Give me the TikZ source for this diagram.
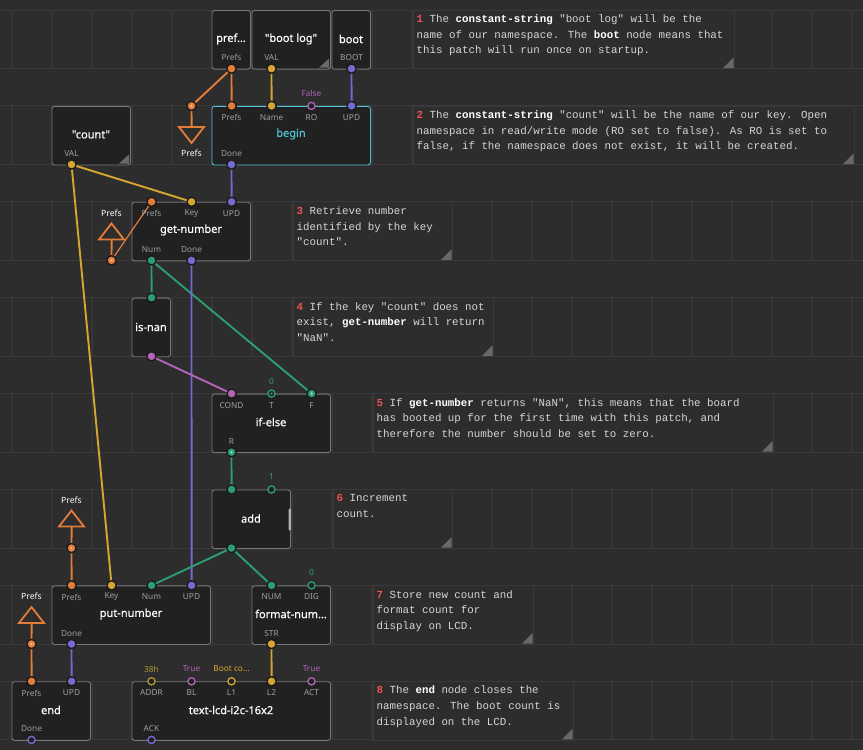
\documentclass[tikz,border=0pt]{standalone}
\usepackage{fontspec}
\newfontfamily\nsfont{Noto Sans}
\newfontfamily\ttlfont{Noto Sans}[FakeBold=0.5]
\newfontfamily\cmtfont{Liberation Mono}
\usetikzlibrary{calc}
\pgfdeclarelayer{under}
\pgfdeclarelayer{wires}
\pgfsetlayers{under,wires,main}
\definecolor{bgc}{RGB}{45,45,45}
\definecolor{gridc}{RGB}{57,57,57}
\definecolor{nodef}{RGB}{33,33,33}
\definecolor{nodeb}{RGB}{120,120,120}
\definecolor{ring}{RGB}{26,26,26}
\definecolor{cor}{RGB}{228,124,58}
\definecolor{cgold}{RGB}{214,166,48}
\definecolor{cbyte}{RGB}{176,152,52}
\definecolor{cpul}{RGB}{118,106,210}
\definecolor{cbool}{RGB}{180,100,184}
\definecolor{cnum}{RGB}{44,158,116}
\definecolor{ccyan}{RGB}{84,192,212}
\definecolor{cred}{RGB}{235,82,82}
\definecolor{ctext}{RGB}{214,214,214}
\definecolor{clbl}{RGB}{158,158,158}
\definecolor{ctri}{RGB}{105,105,105}
\definecolor{ctab}{RGB}{175,175,175}
\newcommand\cmnum[1]{\textbf{\color{cred}#1}}
\newcommand\cmbold[1]{\textbf{\color{white}#1}}
\newcommand\cmtbox[4]{\draw[cboxs] (#1,#2) rectangle (#3,#4);
  \fill[ctri] ({#3-0.5},{#4-11}) -- ({#3-0.5},{#4-0.5}) -- ({#3-11},{#4-0.5}) -- cycle;}
\newcommand\xnd[5]{\node[xnode, anchor=north west, minimum width=#4, minimum height=58.6, #5] (#1) at (#2,#3) {};}
\newcommand\pF[4]{\node[pf=#2] (#1) at (#3,#4) {};}
\newcommand\pH[4]{\node[ph=#2] (#1) at (#3,#4) {};}
\newcommand\pdot[2]{\fill[#2] (#1) circle (1.3pt);}
\newcommand\ctri[2]{\fill[ctri] ({#1-1},{#2-10}) -- ({#1-1},{#2-1}) -- ({#1-11},{#2-1}) -- cycle;}
\tikzset{
 xnode/.style={draw=nodeb, fill=nodef, line width=0.9pt, rounded corners=2.5pt, inner sep=0},
 pf/.style={circle, fill=#1, draw=ring, line width=1.3pt, inner sep=0, minimum size=9.2pt},
 ph/.style={circle, fill=nodef, draw=#1, line width=1.3pt, inner sep=0, minimum size=7.2pt},
 lnk/.style={line width=1.9pt, draw=#1},
 tri/.style={draw=cor, line width=1.8pt, line join=miter},
 ttl/.style={text=white, font=\ttlfont\fontsize{11}{13}\selectfont, inner sep=0},
 plbl/.style={text=clbl, font=\nsfont\fontsize{8.3}{10}\selectfont, inner sep=0},
 vlbl/.style={text=#1, font=\nsfont\fontsize{8.3}{10}\selectfont, inner sep=0},
 tlbl/.style={text=white, font=\nsfont\bfseries\fontsize{8.6}{10}\selectfont, inner sep=0},
 cmt/.style={text=ctext, font=\cmtfont\fontsize{10.8}{15.6}\selectfont, align=left, inner sep=0, anchor=north west},
 cboxs/.style={fill=bgc, draw=gridc, line width=0.8pt},
}
\begin{document}
\begin{tikzpicture}[x=1pt,y=-1pt]
\useasboundingbox (0,0) rectangle (863,750);
\begin{pgfonlayer}{under}
\fill[bgc] (0,0) rectangle (863,750);
% grid bands
\foreach \r in {0,...,7} {
  \draw[gridc, line width=1pt] (0,{10+95.9*\r}) -- (863,{10+95.9*\r});
  \draw[gridc, line width=1pt] (0,{68.6+95.9*\r}) -- (863,{68.6+95.9*\r});
  \foreach \j in {0,...,21}
    \draw[gridc, line width=1.3pt] ({12.3+40*\j},{10+95.9*\r}) -- ({12.32+40*\j},{68.6+95.9*\r});
}
% comment boxes
\cmtbox{413}{10}{734}{68.6}
\cmtbox{413}{105.9}{854}{164.5}
\cmtbox{293}{201.8}{452}{260.4}
\cmtbox{293}{297.7}{493}{356.3}
\cmtbox{373}{393.6}{773}{452.2}
\cmtbox{333}{489.5}{452}{548.1}
\cmtbox{373}{585.4}{533}{644}
\cmtbox{373}{681.3}{573}{739.9}
% node boxes
\xnd{pf}{211.5}{10}{38.5}{}
\xnd{bl}{251.5}{10}{78.5}{}
\xnd{bt}{331.5}{10}{38.5}{}
\xnd{cn}{51.5}{105.9}{78.5}{}
\xnd{bg}{211.5}{105.9}{158.5}{draw=ccyan}
\xnd{gn}{131.5}{201.8}{118.5}{}
\xnd{in}{131.5}{297.7}{38.5}{}
\xnd{ie}{211.5}{393.6}{118.5}{}
\xnd{ad}{211.5}{489.5}{78.5}{}
\xnd{pn}{51.5}{585.4}{158.5}{}
\xnd{fn}{251.5}{585.4}{78.5}{}
\xnd{en}{11.5}{681.3}{78.5}{}
\xnd{lcd}{131.5}{681.3}{198.5}{}
\ctri{330}{68.6}
\ctri{130}{164.5}
\fill[ctab, rounded corners=1pt] (288.6,508.5) rectangle (291.2,530.5);
\end{pgfonlayer}

% comment texts
\node[cmt] (t-c1) at (416.5,14.6) {\cmnum{1} The \cmbold{constant-string} "boot log" will be the\\name of our namespace. The \cmbold{boot} node means that\\this patch will run once on startup.};
\node[cmt] (t-c2) at (416.5,110.5) {\cmnum{2} The \cmbold{constant-string} "count" will be the name of our key. Open\\namespace in read/write mode (RO set to false). As RO is set to\\false, if the namespace does not exist, it will be created.};
\node[cmt] (t-c3) at (296.5,206.4) {\cmnum{3} Retrieve number\\identified by the key\\"count".};
\node[cmt] (t-c4) at (296.5,302.3) {\cmnum{4} If the key "count" does not\\exist, \cmbold{get-number} will return\\"NaN".};
\node[cmt] (t-c5) at (376.5,398.2) {\cmnum{5} If \cmbold{get-number} returns "NaN", this means that the board\\has booted up for the first time with this patch, and\\therefore the number should be set to zero.};
\node[cmt] (t-c6) at (336.5,494.1) {\cmnum{6} Increment\\count.};
\node[cmt] (t-c7) at (376.5,590) {\cmnum{7} Store new count and\\format count for\\display on LCD.};
\node[cmt] (t-c8) at (376.5,685.9) {\cmnum{8} The \cmbold{end} node closes the\\namespace. The boot count is\\displayed on the LCD.};

% titles
\node[ttl] (pf-t) at (231,39) {pref…};
\node[ttl] (bl-t) at (291,39) {"boot log"};
\node[ttl] (bt-t) at (351,39) {boot};
\node[ttl] (cn-t) at (91,134.5) {"count"};
\node[ttl, text=ccyan] (bg-t) at (291,134) {begin};
\node[ttl] (gn-t) at (191,230) {get-number};
\node[ttl] (in-t) at (151,327) {is-nan};
\node[ttl] (ie-t) at (271,422) {if-else};
\node[ttl] (ad-t) at (251,518.5) {add};
\node[ttl] (pn-t) at (131,614) {put-number};
\node[ttl] (fn-t) at (291,614) {format-num…};
\node[ttl] (en-t) at (51,710) {end};
\node[ttl] (lcd-t) at (231,710) {text-lcd-i2c-16x2};

% pin labels
\node[plbl] (l1) at (231.5,57.5) {Prefs};
\node[plbl] (l2) at (271.5,57.5) {VAL};
\node[plbl] (l3) at (351.5,57.5) {BOOT};
\node[plbl] (l4) at (71.5,153.4) {VAL};
\node[plbl] (l5) at (231.5,117.4) {Prefs};
\node[plbl] (l6) at (271.5,117.4) {Name};
\node[plbl] (l7) at (311.5,117.4) {RO};
\node[plbl] (l8) at (351.5,117.4) {UPD};
\node[plbl] (l9) at (231.5,153.4) {Done};
\node[plbl] (l10) at (151.5,213.3) {Prefs};
\node[plbl] (l11) at (191.5,213.3) {Key};
\node[plbl] (l12) at (231.5,213.3) {UPD};
\node[plbl] (l13) at (151.5,249.3) {Num};
\node[plbl] (l14) at (191.5,249.3) {Done};
\node[plbl] (l15) at (231.5,405.1) {COND};
\node[plbl] (l16) at (271.5,405.1) {T};
\node[plbl] (l17) at (311.5,405.1) {F};
\node[plbl] (l18) at (231.5,441.3) {R};
\node[plbl] (l19) at (71.5,597) {Prefs};
\node[plbl] (l20) at (111.5,597) {Key};
\node[plbl] (l21) at (151.5,597) {Num};
\node[plbl] (l22) at (191.5,597) {UPD};
\node[plbl] (l23) at (71.5,633.2) {Done};
\node[plbl] (l24) at (271.5,597) {NUM};
\node[plbl] (l25) at (311.5,597) {DIG};
\node[plbl] (l26) at (271.5,633.2) {STR};
\node[plbl] (l27) at (31.5,692.9) {Prefs};
\node[plbl] (l28) at (71.5,692.9) {UPD};
\node[plbl] (l29) at (31.5,728.6) {Done};
\node[plbl] (l30) at (151.5,692.9) {ADDR};
\node[plbl] (l31) at (191.5,692.9) {BL};
\node[plbl] (l32) at (231.5,692.9) {L1};
\node[plbl] (l33) at (271.5,692.9) {L2};
\node[plbl] (l34) at (311.5,692.9) {ACT};
\node[plbl] (l35) at (151.5,728.6) {ACK};

% value labels
\node[vlbl=cbool] (v1) at (311.5,93.3) {False};
\node[vlbl=cnum] (v2) at (271.5,381.2) {0};
\node[vlbl=cnum] (v3) at (271.5,477) {1};
\node[vlbl=cnum] (v4) at (311.5,573) {0};
\node[vlbl=cbyte] (v5) at (151.5,669) {38h};
\node[vlbl=cbool] (v6) at (191.5,669) {True};
\node[vlbl=cgold] (v7) at (231.5,669) {Boot co…};
\node[vlbl=cbool] (v8) at (311.5,669) {True};

% terminals
\coordinate (t1-b) at (191.6,127);
\draw[tri] (179,127) -- (204,127) -- (191.5,143) -- cycle;
\node[tlbl] (t1-l) at (191.5,153.5) {Prefs};
\node[tlbl] (t2-l) at (111.5,212.8) {Prefs};
\draw[tri] (111.5,223.5) -- (124,239.5) -- (99,239.5) -- cycle;
\coordinate (t2-b) at (111.6,239.5);
\node[tlbl] (t3-l) at (71.5,500) {Prefs};
\draw[tri] (71.5,510.5) -- (84,526.5) -- (59,526.5) -- cycle;
\coordinate (t3-b) at (71.6,526.5);
\node[tlbl] (t4-l) at (31.5,596.5) {Prefs};
\draw[tri] (31.5,607) -- (44,623) -- (19,623) -- cycle;
\coordinate (t4-b) at (31.6,623);

% pins (input pins sit 0.1pt right so that straight links are not exactly vertical)
\pF{pf-o}{cor}{231.5}{68.6}
\pF{bl-o}{cgold}{271.5}{68.6}
\pF{bt-o}{cpul}{351.5}{68.6}
\pF{cn-o}{cgold}{71.5}{164.5}
\pF{t1-p}{cor}{191.5}{105.9}\pdot{t1-p}{cor!45!white}
\pF{bg-prefs}{cor}{231.6}{105.9}
\pF{bg-name}{cgold}{271.6}{105.9}
\pH{bg-ro}{cbool}{311.5}{105.9}
\pF{bg-upd}{cpul}{351.6}{105.9}
\pF{bg-done}{cpul}{231.5}{164.5}
\pF{t2-p}{cor}{111.5}{260.4}\pdot{t2-p}{cor!45!white}
\pF{gn-prefs}{cor}{151.6}{201.8}
\pF{gn-key}{cgold}{191.6}{201.8}
\pF{gn-upd}{cpul}{231.6}{201.8}
\pF{gn-num}{cnum}{151.5}{260.4}
\pF{gn-done}{cpul}{191.5}{260.4}
\pF{in-i}{cnum}{151.6}{297.7}
\pF{in-o}{cbool}{151.5}{356.3}
\pF{ie-cond}{cbool}{231.6}{393.6}
\pH{ie-t}{cnum}{271.5}{393.6}\pdot{ie-t}{cnum}
\pF{ie-f}{cnum}{311.6}{393.6}\pdot{ie-f}{cnum!45!white}
\pF{ie-r}{cnum}{231.5}{452.2}\pdot{ie-r}{cnum!45!white}
\pF{ad-a}{cnum}{231.6}{489.5}
\pH{ad-b}{cnum}{271.5}{489.5}
\pF{ad-o}{cnum}{231.5}{548.1}
\pF{t3-p}{cor}{71.5}{548.1}\pdot{t3-p}{cor!45!white}
\pF{pn-prefs}{cor}{71.6}{585.4}
\pF{pn-key}{cgold}{111.6}{585.4}
\pF{pn-num}{cnum}{151.6}{585.4}
\pF{pn-upd}{cpul}{191.6}{585.4}
\pF{pn-done}{cpul}{71.5}{644}
\pF{fn-num}{cnum}{271.6}{585.4}
\pH{fn-dig}{cnum}{311.5}{585.4}
\pF{fn-str}{cgold}{271.5}{644}
\pF{t4-p}{cor}{31.5}{644}\pdot{t4-p}{cor!45!white}
\pF{en-prefs}{cor}{31.6}{681.3}
\pF{en-upd}{cpul}{71.6}{681.3}
\pH{en-done}{cpul}{31.5}{739.9}
\pH{lcd-addr}{cbyte}{151.5}{681.3}
\pH{lcd-bl}{cbool}{191.5}{681.3}
\pH{lcd-l1}{cgold}{231.5}{681.3}
\pF{lcd-l2}{cgold}{271.6}{681.3}
\pH{lcd-act}{cbool}{311.5}{681.3}
\pH{lcd-ack}{cpul}{151.5}{739.9}

% links
\begin{pgfonlayer}{wires}
\draw[lnk=cor] (pf-o.center) -- (bg-prefs.center);
\draw[lnk=cor] (pf-o.center) -- (t1-p.center);
\draw[lnk=cor] (t1-p.center) -- (t1-b);
\draw[lnk=cgold] (bl-o.center) -- (bg-name.center);
\draw[lnk=cpul] (bt-o.center) -- (bg-upd.center);
\draw[lnk=cgold] (cn-o.center) -- (gn-key.center);
\draw[lnk=cgold] (cn-o.center) -- (pn-key.center);
\draw[lnk=cpul] (bg-done.center) -- (gn-upd.center);
\draw[lnk=cor, line width=1.2pt] (t2-p.center) -- (gn-prefs.center);
\draw[lnk=cor] (t2-b) -- (t2-p.center);
\draw[lnk=cnum] (gn-num.center) -- (in-i.center);
\draw[lnk=cnum] (gn-num.center) -- (ie-f.center);
\draw[lnk=cpul] (gn-done.center) -- (pn-upd.center);
\draw[lnk=cbool] (in-o.center) -- (ie-cond.center);
\draw[lnk=cnum] (ie-r.center) -- (ad-a.center);
\draw[lnk=cnum] (ad-o.center) -- (pn-num.center);
\draw[lnk=cnum] (ad-o.center) -- (fn-num.center);
\draw[lnk=cor] (t3-b) -- (t3-p.center);
\draw[lnk=cor] (t3-p.center) -- (pn-prefs.center);
\draw[lnk=cgold] (fn-str.center) -- (lcd-l2.center);
\draw[lnk=cor] (t4-b) -- (t4-p.center);
\draw[lnk=cor] (t4-p.center) -- (en-prefs.center);
\draw[lnk=cpul] (pn-done.center) -- (en-upd.center);
\end{pgfonlayer}
\end{tikzpicture}
\end{document}
